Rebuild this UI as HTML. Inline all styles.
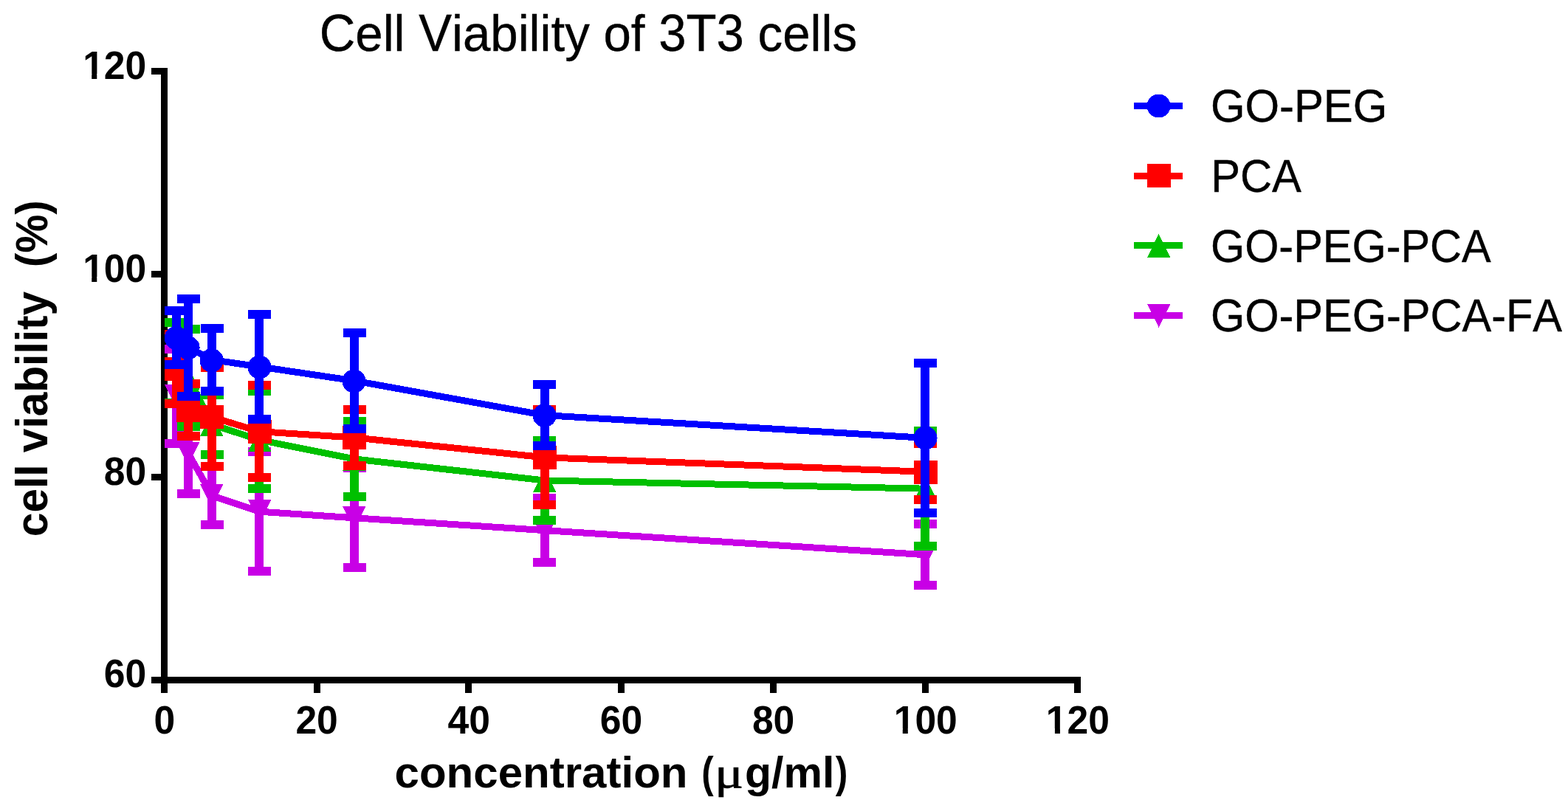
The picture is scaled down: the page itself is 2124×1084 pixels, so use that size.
<!DOCTYPE html>
<html lang="en">
<head>
<meta charset="utf-8">
<title>Cell Viability of 3T3 cells</title>
<style>
html,body{margin:0;padding:0;background:#fff;}
body{width:2124px;height:1084px;overflow:hidden;}
svg{display:block;}
text{font-family:"Liberation Sans",sans-serif;fill:#000;font-kerning:none;white-space:pre;}
.b{font-weight:bold;}
.s{font-family:"Liberation Serif","DejaVu Serif",serif;font-weight:normal;}
.sb{font-family:"Liberation Serif","DejaVu Serif",serif;font-weight:bold;}
</style>
</head>
<body>
<svg width="2124" height="1084" viewBox="0 0 2124 1084">
<rect x="0" y="0" width="2124" height="1084" fill="#ffffff"/>
<text class="r" y="69" xml:space="preserve" stroke="#000" stroke-width="0.4"><tspan x="432.79" font-size="71.00" textLength="48.53" lengthAdjust="spacingAndGlyphs">C</tspan><tspan x="481.32" font-size="68.60" textLength="85.90" lengthAdjust="spacingAndGlyphs">ell </tspan><tspan x="567.21" font-size="71.00" textLength="44.82" lengthAdjust="spacingAndGlyphs">V</tspan><tspan x="612.03" font-size="68.60" textLength="280.11" lengthAdjust="spacingAndGlyphs">iability of </tspan><tspan x="892.14" font-size="71.00" textLength="115.79" lengthAdjust="spacingAndGlyphs">3T3</tspan><tspan x="1007.93" font-size="68.60" textLength="153.10" lengthAdjust="spacingAndGlyphs"> cells</tspan></text>
<g shape-rendering="crispEdges" fill="#000">
<rect x="218" y="92" width="9" height="847"/>
<rect x="205" y="917" width="1259" height="9"/>
<rect x="205" y="92" width="13" height="9"/>
<rect x="205" y="367" width="13" height="9"/>
<rect x="205" y="642" width="13" height="9"/>
<rect x="425" y="926" width="9" height="13"/>
<rect x="630" y="926" width="9" height="13"/>
<rect x="837" y="926" width="9" height="13"/>
<rect x="1043" y="926" width="9" height="13"/>
<rect x="1249" y="926" width="9" height="13"/>
<rect x="1455" y="926" width="9" height="13"/>
</g>
<text class="b" transform="translate(112.14,107.00) scale(1,1.0261)" font-size="51.65" xml:space="preserve">120</text>
<rect x="113.90" y="100.09" width="10.30" height="8.61" fill="#fff"/><rect x="131.28" y="100.09" width="9.65" height="8.61" fill="#fff"/>
<text class="b" transform="translate(112.14,382.00) scale(1,1.0261)" font-size="51.65" xml:space="preserve">100</text>
<rect x="113.90" y="375.09" width="10.30" height="8.61" fill="#fff"/><rect x="131.28" y="375.09" width="9.65" height="8.61" fill="#fff"/>
<text class="b" transform="translate(140.87,657.00) scale(1,1.0261)" font-size="51.65" xml:space="preserve">80</text>
<text class="b" transform="translate(140.87,931.00) scale(1,1.0261)" font-size="51.65" xml:space="preserve">60</text>
<text class="b" transform="translate(208.59,994.00) scale(1,1.0261)" font-size="51.65" xml:space="preserve">0</text>
<text class="b" transform="translate(400.39,994.00) scale(1,1.0261)" font-size="51.65" xml:space="preserve">20</text>
<text class="b" transform="translate(606.56,994.00) scale(1,1.0261)" font-size="51.65" xml:space="preserve">40</text>
<text class="b" transform="translate(812.72,994.00) scale(1,1.0261)" font-size="51.65" xml:space="preserve">60</text>
<text class="b" transform="translate(1018.89,994.00) scale(1,1.0261)" font-size="51.65" xml:space="preserve">80</text>
<text class="b" transform="translate(1210.69,994.00) scale(1,1.0261)" font-size="51.65" xml:space="preserve">100</text>
<rect x="1212.45" y="987.09" width="10.30" height="8.61" fill="#fff"/><rect x="1229.83" y="987.09" width="9.65" height="8.61" fill="#fff"/>
<text class="b" transform="translate(1416.86,994.00) scale(1,1.0261)" font-size="51.65" xml:space="preserve">120</text>
<rect x="1418.61" y="987.09" width="10.30" height="8.61" fill="#fff"/><rect x="1436.00" y="987.09" width="9.65" height="8.61" fill="#fff"/>
<text class="b" y="1067" xml:space="preserve"><tspan class="b" x="534.55" font-size="59.40" textLength="413.65" lengthAdjust="spacingAndGlyphs">concentration </tspan><tspan class="b" x="950.35" font-size="59.40" textLength="16.40" lengthAdjust="spacingAndGlyphs">(</tspan><tspan class="s" x="968.09" font-size="60.00" textLength="39.10" lengthAdjust="spacingAndGlyphs" stroke="#000" stroke-width="0.7">μ</tspan><tspan class="b" x="1009.08" font-size="59.40" textLength="121.30" lengthAdjust="spacingAndGlyphs">g/ml</tspan><tspan class="b" x="1131.85" font-size="59.40" textLength="16.64" lengthAdjust="spacingAndGlyphs">)</tspan></text>
<text class="b" transform="translate(64.1,727.19) rotate(-90) scale(1,1.0303)" font-size="58.62" xml:space="preserve">cell viability  (%)</text>
<g shape-rendering="crispEdges">
<g fill="#c800e6" stroke="none">
<rect x="223" y="467" width="31" height="12"/><rect x="223" y="595" width="31" height="12"/><rect x="233" y="467" width="12" height="140"/>
<rect x="240" y="555" width="31" height="12"/><rect x="240" y="663" width="31" height="12"/><rect x="249" y="555" width="12" height="120"/>
<rect x="272" y="626" width="31" height="12"/><rect x="272" y="705" width="31" height="12"/><rect x="281" y="626" width="12" height="91"/>
<rect x="336" y="606" width="31" height="12"/><rect x="336" y="768" width="31" height="12"/><rect x="345" y="606" width="12" height="174"/>
<rect x="465" y="628" width="31" height="12"/><rect x="465" y="763" width="31" height="12"/><rect x="474" y="628" width="12" height="147"/>
<rect x="722" y="669" width="31" height="12"/><rect x="722" y="756" width="31" height="12"/><rect x="732" y="669" width="12" height="99"/>
<rect x="1238" y="704" width="31" height="12"/><rect x="1238" y="787" width="31" height="12"/><rect x="1247" y="704" width="12" height="95"/>
<polyline points="238.5,537.2 255.5,615.0 287.5,671.8 351.5,693.2 480.5,701.8 737.5,718.6 1253.5,751.7" fill="none" stroke="#c800e6" stroke-width="9" stroke-linejoin="round"/>
<polygon points="223,521 254.3,521 238.6,552.7" fill="#c800e6"/><polygon points="239,599 270.3,599 254.6,630.7" fill="#c800e6"/><polygon points="271,656 302.3,656 286.6,687.7" fill="#c800e6"/><polygon points="336,677 367.3,677 351.6,708.7" fill="#c800e6"/><polygon points="464,686 495.3,686 479.6,717.7" fill="#c800e6"/><polygon points="722,703 753.3,703 737.6,734.7" fill="#c800e6"/><polygon points="1238,736 1269.3,736 1253.6,767.7" fill="#c800e6"/>
</g>
<g fill="#00c000" stroke="none">
<rect x="223" y="431" width="31" height="12"/><rect x="223" y="540" width="31" height="12"/><rect x="233" y="431" width="12" height="121"/>
<rect x="240" y="440" width="31" height="12"/><rect x="240" y="572" width="31" height="12"/><rect x="249" y="440" width="12" height="144"/>
<rect x="272" y="529" width="31" height="12"/><rect x="272" y="610" width="31" height="12"/><rect x="281" y="529" width="12" height="93"/>
<rect x="336" y="524" width="31" height="12"/><rect x="336" y="656" width="31" height="12"/><rect x="345" y="524" width="12" height="144"/>
<rect x="465" y="565" width="31" height="12"/><rect x="465" y="667" width="31" height="12"/><rect x="474" y="565" width="12" height="114"/>
<rect x="722" y="591" width="31" height="12"/><rect x="722" y="699" width="31" height="12"/><rect x="732" y="591" width="12" height="120"/>
<rect x="1238" y="578" width="31" height="12"/><rect x="1238" y="734" width="31" height="12"/><rect x="1247" y="578" width="12" height="168"/>
<polyline points="238.5,491.7 255.5,512.5 287.5,575.4 351.5,596.1 480.5,622.0 737.5,651.0 1253.5,662.2" fill="none" stroke="#00c000" stroke-width="9" stroke-linejoin="round"/>
<polygon points="238.6,476 254.3,507.7 223,507.7" fill="#00c000"/><polygon points="254.6,496 270.3,527.7 239,527.7" fill="#00c000"/><polygon points="286.6,559 302.3,590.7 271,590.7" fill="#00c000"/><polygon points="351.6,580 367.3,611.7 336,611.7" fill="#00c000"/><polygon points="479.6,606 495.3,637.7 464,637.7" fill="#00c000"/><polygon points="737.6,635 753.3,666.7 722,666.7" fill="#00c000"/><polygon points="1253.6,646 1269.3,677.7 1238,677.7" fill="#00c000"/>
</g>
<g fill="#ff0000" stroke="none">
<rect x="223" y="447" width="31" height="12"/><rect x="223" y="541" width="31" height="12"/><rect x="233" y="447" width="12" height="106"/>
<rect x="240" y="514" width="31" height="12"/><rect x="240" y="585" width="31" height="12"/><rect x="249" y="514" width="12" height="83"/>
<rect x="272" y="492" width="31" height="12"/><rect x="272" y="626" width="31" height="12"/><rect x="281" y="492" width="12" height="146"/>
<rect x="336" y="516" width="31" height="12"/><rect x="336" y="641" width="31" height="12"/><rect x="345" y="516" width="12" height="137"/>
<rect x="465" y="549" width="31" height="12"/><rect x="465" y="625" width="31" height="12"/><rect x="474" y="549" width="12" height="88"/>
<rect x="722" y="549" width="31" height="12"/><rect x="722" y="678" width="31" height="12"/><rect x="732" y="549" width="12" height="141"/>
<rect x="1238" y="595" width="31" height="12"/><rect x="1238" y="671" width="31" height="12"/><rect x="1247" y="595" width="12" height="88"/>
<polyline points="238.5,500.0 255.5,555.7 287.5,565.3 351.5,584.7 480.5,593.0 737.5,619.8 1253.5,639.3" fill="none" stroke="#ff0000" stroke-width="9" stroke-linejoin="round"/>
<rect x="223" y="484" width="32" height="32" fill="#ff0000"/><rect x="239" y="540" width="32" height="32" fill="#ff0000"/><rect x="271" y="549" width="32" height="32" fill="#ff0000"/><rect x="336" y="569" width="32" height="32" fill="#ff0000"/><rect x="464" y="577" width="32" height="32" fill="#ff0000"/><rect x="722" y="604" width="32" height="32" fill="#ff0000"/><rect x="1238" y="624" width="32" height="32" fill="#ff0000"/>
</g>
<g fill="#0000ff" stroke="none">
<rect x="223" y="415" width="31" height="12"/><rect x="223" y="488" width="31" height="12"/><rect x="233" y="415" width="12" height="85"/>
<rect x="240" y="399" width="31" height="12"/><rect x="240" y="531" width="31" height="12"/><rect x="249" y="399" width="12" height="144"/>
<rect x="272" y="439" width="31" height="12"/><rect x="272" y="524" width="31" height="12"/><rect x="281" y="439" width="12" height="97"/>
<rect x="336" y="420" width="31" height="12"/><rect x="336" y="562" width="31" height="12"/><rect x="345" y="420" width="12" height="154"/>
<rect x="465" y="445" width="31" height="12"/><rect x="465" y="575" width="31" height="12"/><rect x="474" y="445" width="12" height="142"/>
<rect x="722" y="515" width="31" height="12"/><rect x="722" y="598" width="31" height="12"/><rect x="732" y="515" width="12" height="95"/>
<rect x="1238" y="486" width="31" height="12"/><rect x="1238" y="689" width="31" height="12"/><rect x="1247" y="486" width="12" height="215"/>
<polyline points="238.5,457.6 255.5,471.1 287.5,487.6 351.5,496.9 480.5,516.0 737.5,562.6 1253.5,593.4" fill="none" stroke="#0000ff" stroke-width="9" stroke-linejoin="round"/>
<circle cx="238.6" cy="457.9" r="16" fill="#0000ff"/><circle cx="254.6" cy="471.3" r="16" fill="#0000ff"/><circle cx="286.6" cy="488.3" r="16" fill="#0000ff"/><circle cx="351.6" cy="497.5" r="16" fill="#0000ff"/><circle cx="479.6" cy="516.6" r="16" fill="#0000ff"/><circle cx="737.6" cy="563.0" r="16" fill="#0000ff"/><circle cx="1253.6" cy="593.4" r="16" fill="#0000ff"/>
</g>
</g>
<g shape-rendering="crispEdges">
<rect x="1536" y="139" width="66" height="9" fill="#0000ff"/><circle cx="1569.6" cy="143.5" r="16" fill="#0000ff"/>
<rect x="1536" y="234" width="66" height="9" fill="#ff0000"/><rect x="1554" y="222" width="32" height="32" fill="#ff0000"/>
<rect x="1536" y="328" width="66" height="9" fill="#00c000"/><polygon points="1569.6,317 1585.3,348.7 1554,348.7" fill="#00c000"/>
<rect x="1536" y="423" width="66" height="9" fill="#c800e6"/><polygon points="1554,412 1585.3,412 1569.6,443.7" fill="#c800e6"/>
</g>
<text class="r" transform="translate(1639.89,165.00) scale(1,1.0658)" font-size="59.86" xml:space="preserve" stroke="#000" stroke-width="0.4" stroke-linejoin="miter">GO-PEG</text>
<text class="r" transform="translate(1640.21,260.00) scale(1,1.0699)" font-size="59.63" xml:space="preserve" stroke="#000" stroke-width="0.4" stroke-linejoin="miter">PCA</text>
<text class="r" transform="translate(1639.91,355.00) scale(1,1.0733)" font-size="59.44" xml:space="preserve" stroke="#000" stroke-width="0.4" stroke-linejoin="miter">GO-PEG-PCA</text>
<text class="r" transform="translate(1639.91,449.00) scale(1,1.0721)" font-size="59.51" xml:space="preserve" stroke="#000" stroke-width="0.4" stroke-linejoin="miter">GO-PEG-PCA-FA</text>
</svg>
</body>
</html>
